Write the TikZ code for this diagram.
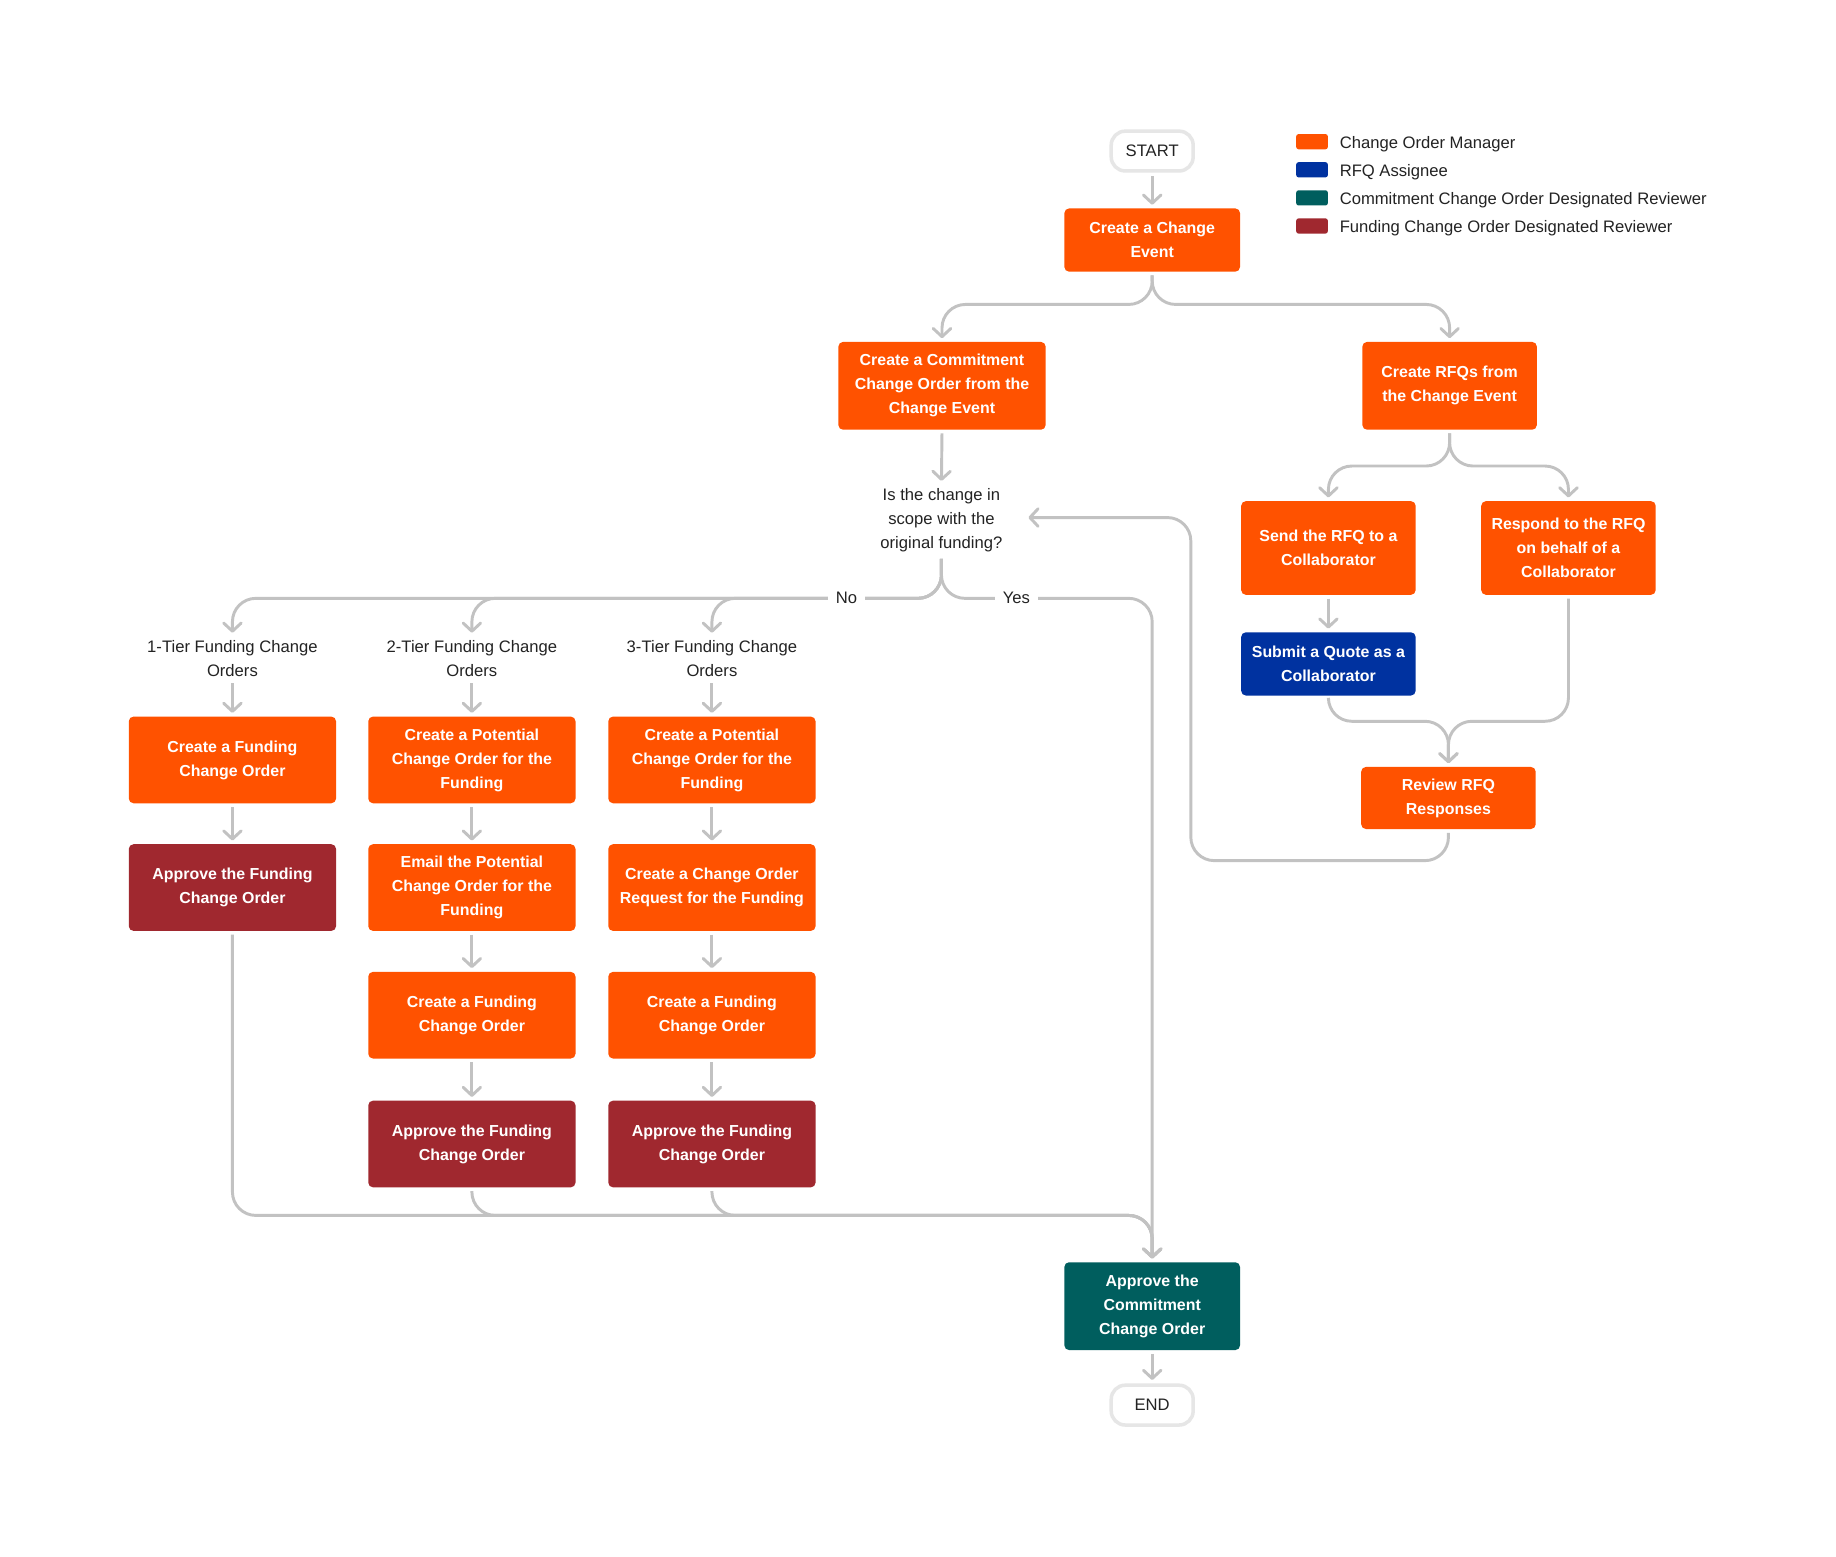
\documentclass[tikz,border=0pt]{standalone}
\usepackage{fontspec}
\setmainfont{Liberation Sans}
\usetikzlibrary{arrows.meta,calc}
\definecolor{cOrange}{HTML}{FF5200}
\definecolor{cBlue}{HTML}{0032A0}
\definecolor{cTeal}{HTML}{005E5E}
\definecolor{cRed}{HTML}{A0282F}
\definecolor{cLine}{HTML}{C2C2C2}
\definecolor{cBorder}{HTML}{E6E6E6}
\definecolor{cText}{HTML}{232323}
\begin{document}
\begin{tikzpicture}[x=1pt,y=-1pt,
  box/.style={rectangle, rounded corners=4pt, text=white, align=center, inner sep=0pt,
    font=\bfseries\fontsize{13.6pt}{20.5pt}\selectfont, minimum width=177pt, minimum height=74pt},
  obox/.style={box, fill=cOrange},
  rbox/.style={box, fill=cRed},
  bbox/.style={box, fill=cBlue},
  tbox/.style={box, fill=cTeal},
  term/.style={rectangle, rounded corners=12pt, draw=cBorder, line width=3pt, fill=white,
    text=cText, font=\fontsize{14.2pt}{20.5pt}\selectfont, minimum width=70pt, minimum height=34pt, inner sep=0pt},
  lbl/.style={text=cText, align=center, inner sep=3pt, font=\fontsize{14.2pt}{20.5pt}\selectfont},
  swatch/.style={rectangle, rounded corners=2pt, minimum width=27pt, minimum height=13pt, inner sep=0pt},
  legtext/.style={text=cText, anchor=west, inner sep=0pt, font=\fontsize{14.2pt}{17pt}\selectfont},
  conn/.style={draw=cLine, line width=2.5pt, rounded corners=20pt,
    -{Straight Barb[length=7pt,width=15pt,round]}, shorten >=3pt, shorten <=3pt},
]
\fill[white] (0,0) rectangle (1568,1329);
\useasboundingbox (0,0) rectangle (1568,1329);

% legend
\node[swatch, fill=cOrange] (sw1) at (1120.5,121) {};
\node[swatch, fill=cBlue]   (sw2) at (1120.5,145) {};
\node[swatch, fill=cTeal]   (sw3) at (1120.5,169) {};
\node[swatch, fill=cRed]    (sw4) at (1120.5,193) {};
\node[legtext] (lg1) at (1144,123) {Change Order Manager};
\node[legtext] (lg2) at (1144,147) {RFQ Assignee};
\node[legtext] (lg3) at (1144,171) {Commitment Change Order Designated Reviewer};
\node[legtext] (lg4) at (1144,195) {Funding Change Order Designated Reviewer};

% nodes
\node[term] (start) at (984,129) {START};
\node[obox, minimum width=150pt, minimum height=54pt] (ce) at (984,205) {Create a Change\\Event};
\node[obox, minimum height=75pt] (cco) at (804.5,329.5) {Create a Commitment\\Change Order from the\\Change Event};
\node[obox, minimum width=149pt, minimum height=75pt] (rfq) at (1238,329.5) {Create RFQs from\\the Change Event};
\node[lbl] (q) at (804,444) {Is the change in\\scope with the\\original funding?};

\node[lbl] (t1) at (198.5,562) {1-Tier Funding Change\\Orders};
\node[lbl] (t2) at (403,562) {2-Tier Funding Change\\Orders};
\node[lbl] (t3) at (608,562) {3-Tier Funding Change\\Orders};

\node[obox] (c1a) at (198.5,649) {Create a Funding\\Change Order};
\node[rbox] (c1b) at (198.5,758) {Approve the Funding\\Change Order};

\node[obox] (c2a) at (403,649) {Create a Potential\\Change Order for the\\Funding};
\node[obox] (c2b) at (403,758) {Email the Potential\\Change Order for the\\Funding};
\node[obox] (c2c) at (403,867) {Create a Funding\\Change Order};
\node[rbox] (c2d) at (403,977) {Approve the Funding\\Change Order};

\node[obox] (c3a) at (608,649) {Create a Potential\\Change Order for the\\Funding};
\node[obox] (c3b) at (608,758) {Create a Change Order\\Request for the Funding};
\node[obox] (c3c) at (608,867) {Create a Funding\\Change Order};
\node[rbox] (c3d) at (608,977) {Approve the Funding\\Change Order};

\node[obox, minimum width=149pt, minimum height=80pt] (send) at (1134.5,468) {Send the RFQ to a\\Collaborator};
\node[obox, minimum width=149pt, minimum height=80pt] (resp) at (1339.5,468) {Respond to the RFQ\\on behalf of a\\Collaborator};
\node[bbox, minimum width=149pt, minimum height=54pt] (submit) at (1134.5,567) {Submit a Quote as a\\Collaborator};
\node[obox, minimum width=149pt, minimum height=53pt] (review) at (1237,681.5) {Review RFQ\\Responses};

\node[tbox, minimum width=150pt, minimum height=75pt] (acco) at (984,1115.5) {Approve the\\Commitment\\Change Order};
\node[term] (end) at (984,1200) {END};

% routing coordinates
\coordinate (csplit) at (984,260);
\coordinate (qsplit) at (804,511);
\coordinate (fmerge) at (984,1038);
\coordinate (rsplit) at (1238,398);
\coordinate (rmerge) at (1237,616);
\coordinate (lpa) at (1017,735);
\coordinate (lpb) at (1017,442);

% connectors
\draw[conn] (start.south) -- (ce.north);
\draw[conn] (ce.south) -- (csplit) -| (cco.north);
\draw[conn] (ce.south) -- (csplit) -| (rfq.north);
\draw[conn] (cco.south) -- (q.north);

\draw[conn] (q.south) -- (qsplit) -| (t1.north);
\draw[conn] (q.south) -- (qsplit) -| (t2.north);
\draw[conn] (q.south) -- (qsplit) -| (t3.north);
\draw[conn] (q.south) -- (qsplit) -| (acco.north);

\draw[conn] (t1.south) -- (c1a.north);
\draw[conn] (c1a.south) -- (c1b.north);
\draw[conn] (t2.south) -- (c2a.north);
\draw[conn] (c2a.south) -- (c2b.north);
\draw[conn] (c2b.south) -- (c2c.north);
\draw[conn] (c2c.south) -- (c2d.north);
\draw[conn] (t3.south) -- (c3a.north);
\draw[conn] (c3a.south) -- (c3b.north);
\draw[conn] (c3b.south) -- (c3c.north);
\draw[conn] (c3c.south) -- (c3d.north);

\draw[conn] (c1b.south) |- (fmerge) -- (acco.north);
\draw[conn] (c2d.south) |- (fmerge) -- (acco.north);
\draw[conn] (c3d.south) |- (fmerge) -- (acco.north);
\draw[conn] (acco.south) -- (end.north);

\draw[conn] (rfq.south) -- (rsplit) -| (send.north);
\draw[conn] (rfq.south) -- (rsplit) -| (resp.north);
\draw[conn] (send.south) -- (submit.north);
\draw[conn] (submit.south) |- (rmerge) -- (review.north);
\draw[conn] (resp.south) |- (rmerge) -- (review.north);
\draw[conn, shorten >=19pt] (review.south) |- (lpa) -- (lpb) -- (q.east |- lpb);

% branch labels
\node[lbl, fill=white, inner xsep=7pt] (no) at (723,511) {No};
\node[lbl, fill=white, inner xsep=7pt] (yes) at (868,511) {Yes};
\end{tikzpicture}
\end{document}
